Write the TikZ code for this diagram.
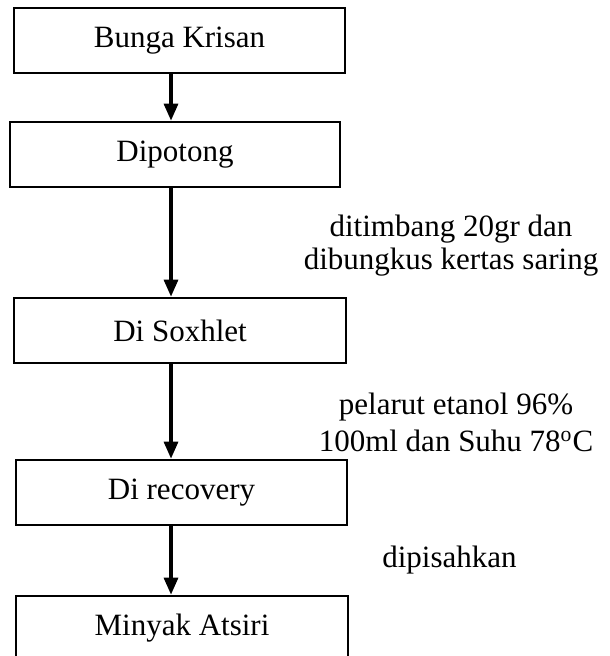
\documentclass[tikz,border=0pt]{standalone}
\usepackage{fontspec}
\setmainfont{Liberation Serif}
\usetikzlibrary{arrows.meta}

\tikzset{
  proses/.style={draw, line width=1.35pt, minimum height=32.5pt, inner sep=0pt,
    font=\fontsize{15.5}{16.5}\selectfont},
  panah/.style={-{Triangle[length=8.5pt,width=7pt]}, line width=1.6pt},
  ket/.style={align=center, inner sep=0pt, font=\fontsize{15.5}{16.5}\selectfont}
}

\begin{document}
\begin{tikzpicture}[x=0.5pt,y=-0.5pt]
\newcommand\axisx{171}
\newcommand\boxw{165.5pt}
\clip (0,0) rectangle (609,656);
\coordinate (sumbu) at (\axisx,0);

% kotak proses
\node[proses, minimum width=\boxw] (bunga) at (179.5,40.5) {Bunga Krisan};
\node[proses, minimum width=165pt] (potong) at (175,154.5) {Dipotong};
\node[proses, minimum width=166pt] (soxhlet) at (180,330.5) {Di Soxhlet};
\node[proses, minimum width=\boxw] (recovery) at (181.5,492.5) {Di recovery};
\node[proses, minimum width=166pt] (minyak) at (182,628.5) {Minyak Atsiri};

% panah
\draw[panah] (bunga.south -| sumbu) -- (potong.north -| sumbu);
\draw[panah] (potong.south -| sumbu) -- (soxhlet.north -| sumbu);
\draw[panah] (soxhlet.south -| sumbu) -- (recovery.north -| sumbu);
\draw[panah] (recovery.south -| sumbu) -- (minyak.north -| sumbu);

% keterangan
\node[ket] (ket1) at (451,246) {ditimbang 20gr dan\\dibungkus kertas saring};
\node[ket, font=\fontsize{15.5}{18.5}\selectfont] (ket2) at (456,422.5)
  {pelarut etanol 96\%\\100ml dan Suhu 78\textsuperscript{o}C};
\node[ket] (ket3) at (449.5,560.5) {dipisahkan};

\end{tikzpicture}
\end{document}
